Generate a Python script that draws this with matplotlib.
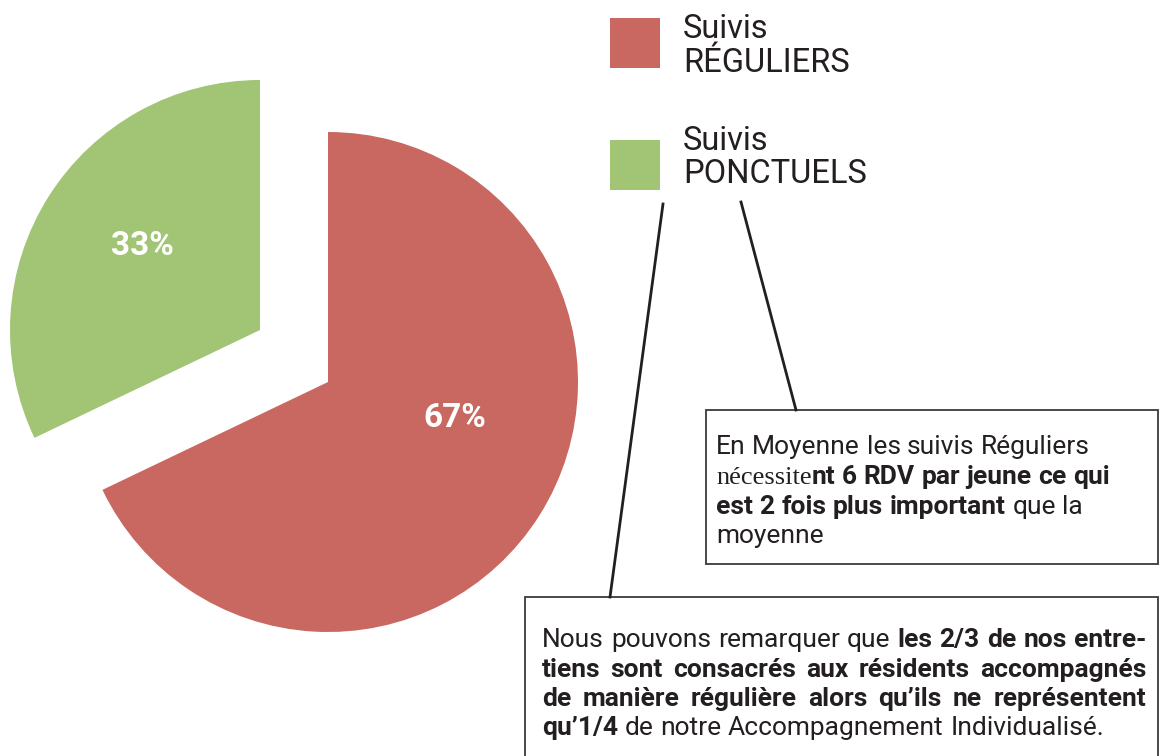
import matplotlib
matplotlib.use("Agg")
from matplotlib import pyplot as plt
from matplotlib.patches import Rectangle

# data
categories = [["Suivis", "RÉGULIERS"], ["Suivis", "PONCTUELS"]]
shares = [67.9, 32.1]
pct_labels = ["67%", "33%"]
colors = ["#C96861", "#A1C575"]

W, H = 1168, 756
SANS = "Roboto"
SERIF = "Liberation Serif"
INK = "#231F20"

fig = plt.figure(figsize=(W / 100, H / 100), dpi=100)
ax = fig.add_axes([0, 0, 1, 1])

wedges, texts = ax.pie(shares, colors=colors, startangle=90, counterclock=False,
                       center=(328, H - 382), radius=250, explode=[0, 86],
                       labels=pct_labels, labeldistance=0.5, frame=True,
                       textprops=dict(color="white", fontsize=24, fontweight="bold",
                                      family=SANS, ha="center", va="center"))
# the green slice is pulled out up-left in the original
wedges[1].set_center((260, H - 330))
texts[0].set_position((455, H - 418))
texts[1].set_position((142, H - 246))

ax.set_xlim(0, W)
ax.set_ylim(0, H)
ax.set_aspect("equal")
ax.axis("off")

# legend keys
key_tops = [18, 140]
text_base = [(38, 72), (150, 183)]
for col, lab, top, bases in zip(colors, categories, key_tops, text_base):
    ax.add_patch(Rectangle((610, H - top - 50), 50, 50, color=col, lw=0))
    for line, b in zip(lab, bases):
        ax.text(683, H - b, line, fontsize=23.5, family=SANS, color=INK,
                ha="left", va="baseline")

# connector lines
ax.plot([663, 610], [H - 204, H - 597], color=INK, lw=2)
ax.plot([741, 796], [H - 202, H - 410], color=INK, lw=2)

# boxes
ax.add_patch(Rectangle((706, H - 564), 452, 154, fill=False, ec="#3a3a3a", lw=1.3))
ax.add_patch(Rectangle((525, H - 780), 633, 183, fill=False, ec="#3a3a3a", lw=1.3,
                       clip_on=False))

renderer = fig.canvas.get_renderer()


def tok_width(s, weight, fam, size):
    t = ax.text(0, 0, s, fontsize=size, fontweight=weight, family=fam)
    w = t.get_window_extent(renderer=renderer).width
    t.remove()
    return w


def draw_line(x, y, tokens, size, width=None):
    # tokens: (text, weight, family, space_before)
    space = size * 100 / 72 * 0.25
    widths = [tok_width(s, w, f, size) for s, w, f, _ in tokens]
    ngaps = sum(1 for t in tokens[1:] if t[3])
    gap = space
    if width is not None and ngaps:
        gap = (width - sum(widths)) / ngaps
    for (s, w, f, sp), tw in zip(tokens, widths):
        if sp:
            x += gap
        ax.text(x, H - y, s, fontsize=size, fontweight=w, family=f, color=INK,
                ha="left", va="baseline")
        x += tw


def words(text, weight, fam=SANS, first_space=True):
    out = []
    for i, wd in enumerate(text.split()):
        out.append((wd, weight, fam, first_space if i == 0 else True))
    return out


fs = 19
draw_line(716, 454, words("En Moyenne les suivis Réguliers", "normal", first_space=False), fs)
draw_line(716, 484, words("nécessite", "normal", SERIF, False)
          + words("nt 6 RDV par jeune ce qui", "bold", first_space=False), fs)
draw_line(716, 514, words("est 2 fois plus important", "bold", first_space=False)
          + words("que la", "normal"), fs)
draw_line(716, 543, words("moyenne", "normal", first_space=False), fs)

fs2 = 19
right = 1146 - 542
draw_line(542, 647, words("Nous pouvons remarquer que", "normal", first_space=False)
          + words("les 2/3 de nos entre-", "bold"), fs2, right)
draw_line(542, 677, words("tiens sont consacrés aux résidents accompagnés", "bold",
                          first_space=False), fs2, right)
draw_line(542, 706, words("de manière régulière alors qu\u2019ils ne représentent", "bold",
                          first_space=False), fs2, right)
draw_line(542, 735, words("qu\u20191/4", "bold", first_space=False)
          + words("de notre Accompagnement Individualisé.", "normal"), fs2)

fig.savefig("out.png", dpi=100)
